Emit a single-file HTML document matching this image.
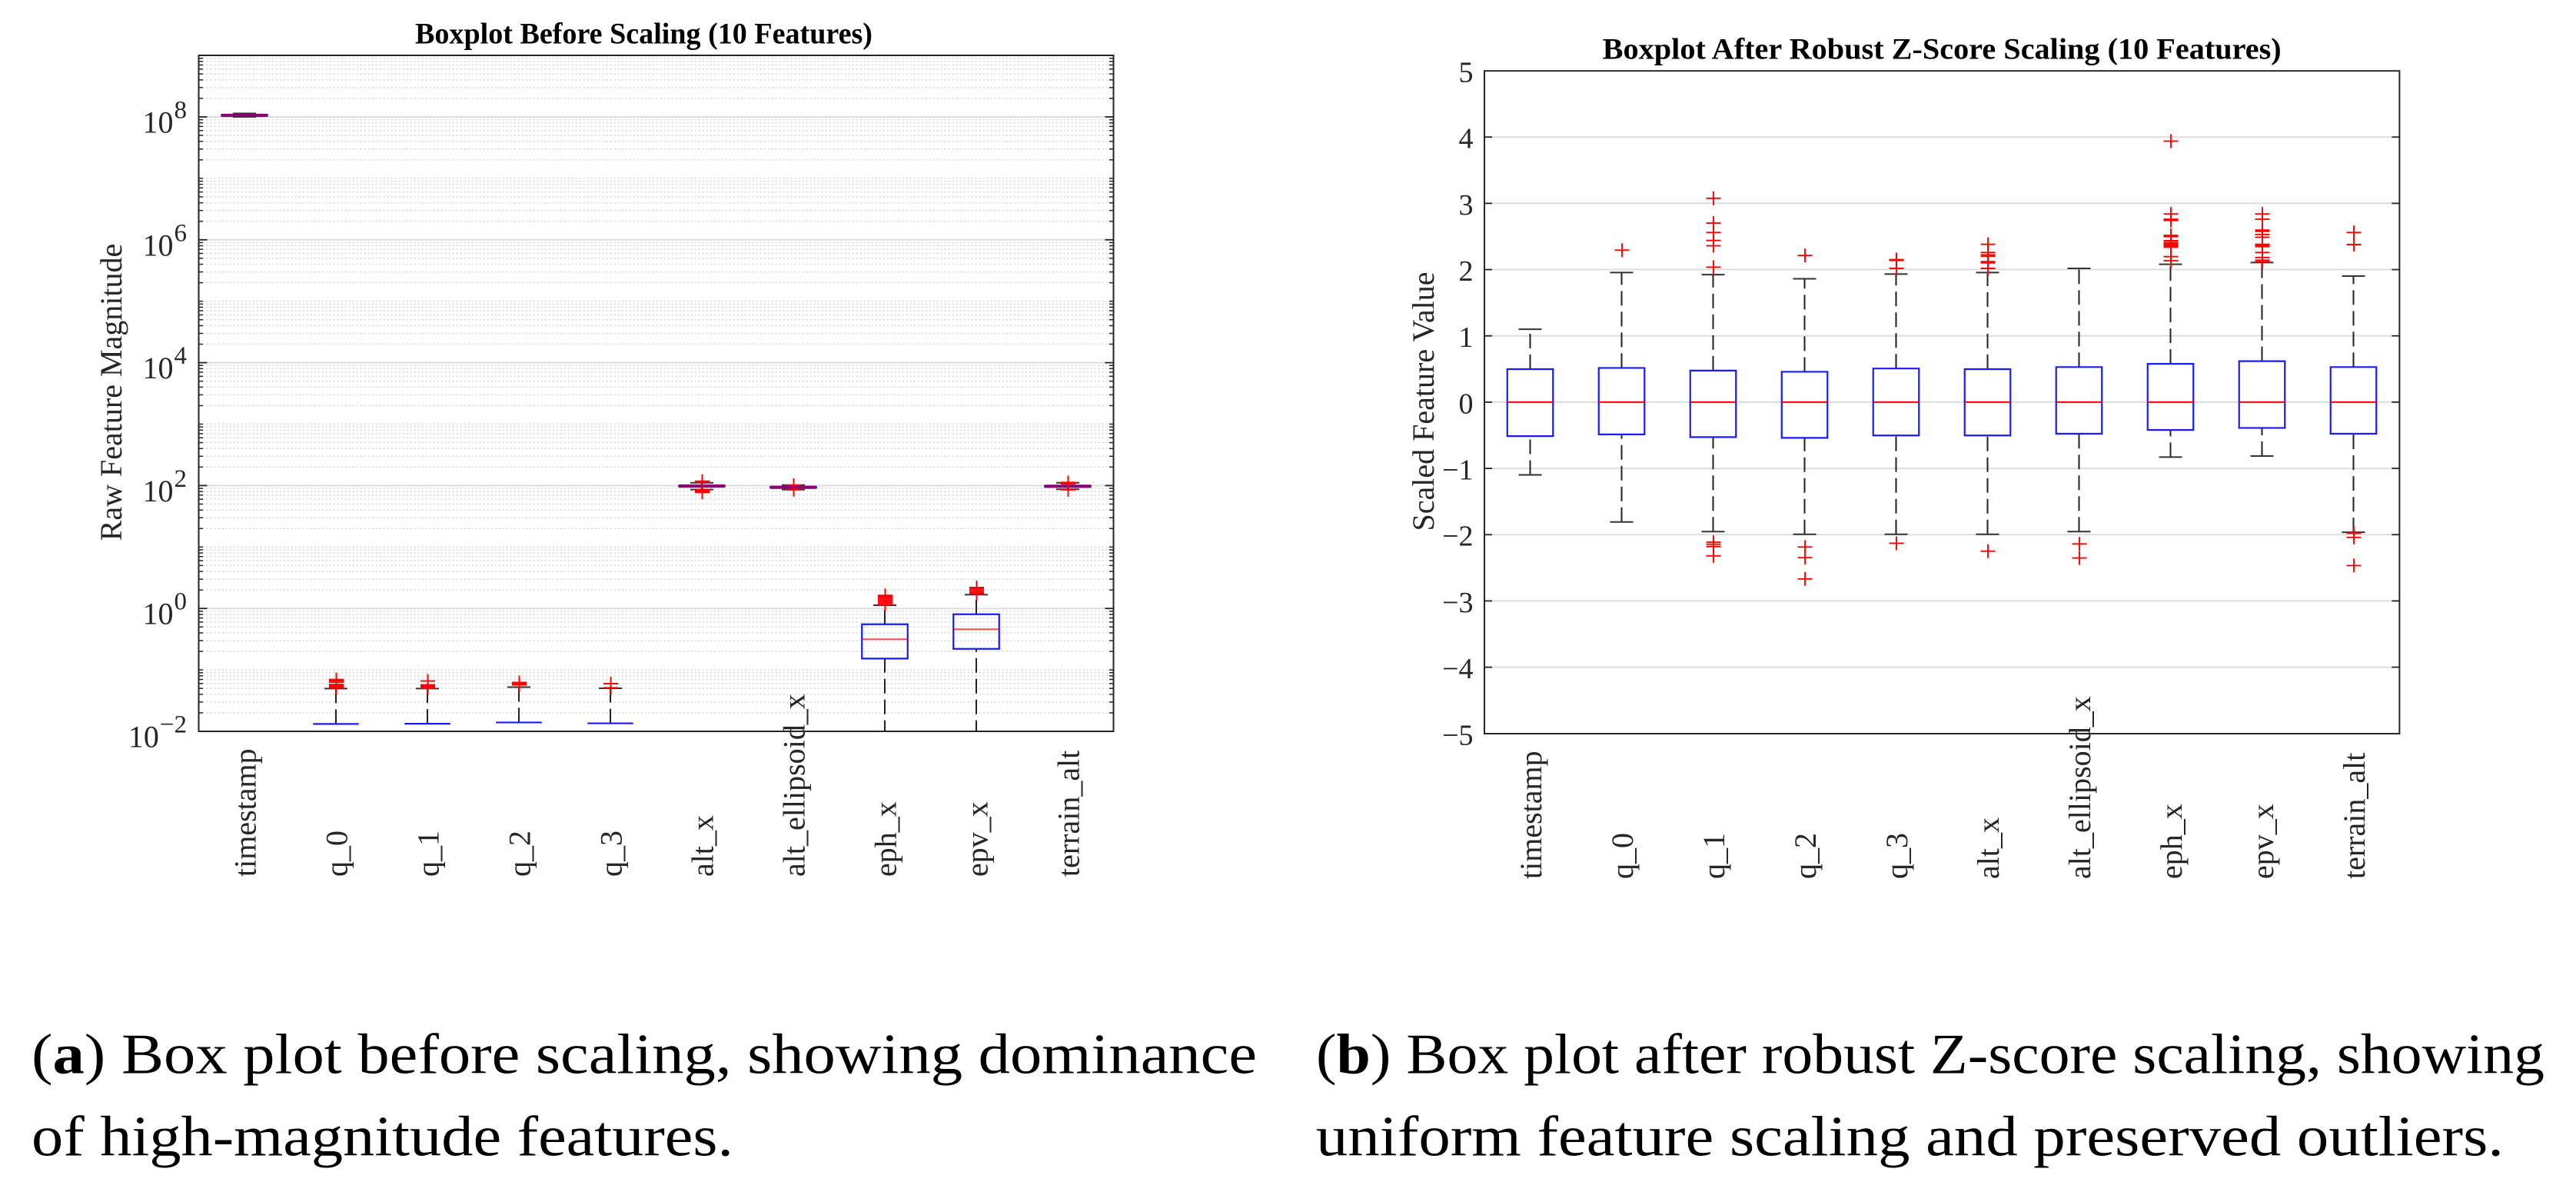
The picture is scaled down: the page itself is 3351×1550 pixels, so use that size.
<!DOCTYPE html>
<html>
<head>
<meta charset="utf-8">
<title>Box plots before and after scaling</title>
<style>
html,body{margin:0;padding:0;background:#fff;}
svg{display:block;}
text{font-family:"Liberation Serif","Times New Roman",serif;}
</style>
</head>
<body>
<svg id="figure" xmlns="http://www.w3.org/2000/svg" width="3351" height="1550" viewBox="0 0 3351 1550">
  <rect x="0" y="0" width="3351" height="1550" fill="#fff"/>
  <defs>
    <clipPath id="clip-left"><rect x="258.5" y="72" width="1190" height="879"/></clipPath>
    <clipPath id="clip-right"><rect x="1931" y="92.2" width="1190.4" height="861.8"/></clipPath>
  </defs>
  <g id="left-chart"></g>
  <g id="right-chart"></g>

  <text x="540" y="56.7" font-size="39" font-weight="bold" fill="#000" textLength="595" lengthAdjust="spacingAndGlyphs">Boxplot Before Scaling (10 Features)</text>
  <text x="2084.7" y="76.5" font-size="39" font-weight="bold" fill="#000" textLength="883" lengthAdjust="spacingAndGlyphs">Boxplot After Robust Z-Score Scaling (10 Features)</text>

  <text transform="translate(158 510) rotate(-90)" text-anchor="middle" font-size="40" fill="#262626">Raw Feature Magnitude</text>
  <text transform="translate(1865 522) rotate(-90)" text-anchor="middle" font-size="40" fill="#262626">Scaled Feature Value</text>

  <text x="41" y="1395.7" font-size="74" fill="#000" textLength="1594" lengthAdjust="spacingAndGlyphs">(<tspan font-weight="bold">a</tspan>) Box plot before scaling, showing dominance</text>
  <text x="41" y="1502.7" font-size="74" fill="#000" textLength="913" lengthAdjust="spacingAndGlyphs">of high-magnitude features.</text>
  <text x="1712" y="1395.7" font-size="74" fill="#000" textLength="1598" lengthAdjust="spacingAndGlyphs">(<tspan font-weight="bold">b</tspan>) Box plot after robust Z-score scaling, showing</text>
  <text x="1712" y="1502.7" font-size="74" fill="#000" textLength="1545" lengthAdjust="spacingAndGlyphs">uniform feature scaling and preserved outliers.</text>
</svg>
<script>
const categories = ['timestamp','q_0','q_1','q_2','q_3','alt_x','alt_ellipsoid_x','eph_x','epv_x','terrain_alt'];

const leftExponents = [-2,0,2,4,6,8];
const leftMedian = [1.06e8,null,null,null,null,98.2,93.6,0.315,0.458,97.4];
const leftQ1 = [1.05e8,0.0132,0.0133,0.01396,0.0135,97,92.4,0.153,0.220,96.2];
const leftQ3 = [1.07e8,0.0132,0.0133,0.01396,0.0135,99.5,94.8,0.553,0.805,98.6];
const leftWhiskerLow = [1e8,null,null,null,null,85.9,85.9,0.004,0.004,86.9];
const leftWhiskerHigh = [1.138e8,0.0496,0.0496,0.0524,0.0502,111,102,1.13,1.675,111];
const leftOutliers = [
  [],
  [0.0698,0.0668,0.0632,0.0579,0.0553,0.0531,0.0507],
  [0.066,0.0571,0.0547,0.0524,0.0502],
  [0.0625,0.0597,0.0571],
  [0.0597,0.0512],
  [117.9,113.5,86.3,81.5,77.4],
  [101,85.4],
  [1.63,1.55,1.46,1.38,1.30,1.23,1.16],
  [2.19,2.07,1.95,1.84,1.74],
  [112.5,107,85.4]
];

const rightTicks = [-5,-4,-3,-2,-1,0,1,2,3,4,5];
const rightMedian = [0,0,0,0,0,0,0,0,0,0];
const rightQ1 = [-0.513,-0.487,-0.528,-0.539,-0.503,-0.503,-0.477,-0.42,-0.389,-0.477];
const rightQ3 = [0.498,0.516,0.476,0.458,0.507,0.498,0.529,0.578,0.618,0.529];
const rightWhiskerLow = [-1.098,-1.808,-1.953,-1.995,-1.995,-1.995,-1.953,-0.829,-0.813,-1.964];
const rightWhiskerHigh = [1.10,1.956,1.924,1.862,1.933,1.956,2.018,2.08,2.107,1.902];
const rightOutliers = [
  [],
  [2.293],
  [3.076,2.702,2.56,2.44,2.36,2.036,-2.114,-2.145,-2.18,-2.32],
  [2.213,-2.187,-2.347,-2.668],
  [2.151,2.138,2.018,-2.13],
  [2.382,2.258,2.222,2.2,2.12,2.102,2.018,-2.249],
  [-2.14,-2.352],
  [3.938,2.84,2.76,2.742,2.516,2.498,2.436,2.409,2.391,2.373,2.356,2.338,2.196,2.133],
  [2.84,2.76,2.596,2.578,2.529,2.489,2.382,2.364,2.347,2.258,2.182,2.142,2.12],
  [2.56,2.378,-1.979,-2.041,-2.466]
];

const SVG_NS = 'http://www.w3.org/2000/svg';
const AXIS_COLOR = '#262626';
const GRID_COLOR = '#dedede';

function leftX(i){ return 258.5 + (i + 0.5) * 119; }
function leftY(v){ return 951 - (Math.log10(v) + 2) * 79.9; }
function rightX(i){ return 1931 + (i + 0.5) * 119; }
function rightY(v){ return 522.9 - v * 86.17; }

function make(parent, tag, attrs){
  const el = document.createElementNS(SVG_NS, tag);
  for (const key in attrs) { el.setAttribute(key, attrs[key]); }
  parent.appendChild(el);
  return el;
}

function line(parent, name, x1, y1, x2, y2, stroke, width, dash){
  const attrs = {x1:x1, y1:y1, x2:x2, y2:y2, stroke:stroke, 'stroke-width':width};
  if (dash) { attrs['stroke-dasharray'] = dash; }
  const el = make(parent, 'line', attrs);
  
  
  return el;
}

function drawBoxes(parent, prefix, clipId, xFn, yFn, median, q1, q3, low, high, outliers, medianOpacity){
  const clip = make(parent, 'g', {'clip-path':'url(#' + clipId + ')'});
  
  
  const boxHalf = 29.75, capHalf = 15, markHalfW = 9.5, markHalfH = 9;
  categories.forEach(function(cat, i){
    const x = xFn(i);
    const g = make(clip, 'g', {});
    
    
    if (high[i] !== null) {
      line(g, 'upper-whisker-' + cat, x, yFn(q3[i]), x, yFn(high[i]), '#222', 2, '19 8');
      line(g, 'upper-cap-' + cat, x - capHalf, yFn(high[i]), x + capHalf, yFn(high[i]), '#333', 2);
    }
    if (low[i] !== null) {
      line(g, 'lower-whisker-' + cat, x, yFn(low[i]), x, yFn(q1[i]), '#222', 2, '19 8');
      line(g, 'lower-cap-' + cat, x - capHalf, yFn(low[i]), x + capHalf, yFn(low[i]), '#333', 2);
    }
    const yTop = yFn(q3[i]), yBot = yFn(q1[i]);
    const box = make(g, 'path', {
      d:'M' + (x - boxHalf) + ' ' + yTop + 'H' + (x + boxHalf) + 'V' + yBot + 'H' + (x - boxHalf) + 'Z',
      fill:'none', stroke:'#1a1aff', 'stroke-width':2.2
    });
    
    
    if (median[i] !== null) {
      const flat = (yBot - yTop) < 6;
      const m = line(g, 'median-' + cat, x - boxHalf, yFn(median[i]), x + boxHalf, yFn(median[i]), flat ? '#8a0070' : '#ff0000', flat ? 4.2 : 2);
      m.setAttribute('stroke-opacity', flat ? 1 : medianOpacity);
    }
    outliers[i].forEach(function(v){
      const oy = yFn(v);
      const mark = make(g, 'path', {
        d:'M' + (x + 0.5 - markHalfW) + ' ' + oy + 'H' + (x + 0.5 + markHalfW) + 'M' + (x + 0.5) + ' ' + (oy - markHalfH) + 'V' + (oy + markHalfH),
        fill:'none', stroke:'#ff0000', 'stroke-width':1.9
      });
      
      
    });
  });
}

function drawFrame(parent, name, x, y, w, h){
  const r = make(parent, 'rect', {x:x, y:y, width:w, height:h, fill:'none', stroke:AXIS_COLOR, 'stroke-width':2});
  
  
}

function drawCategoryLabels(parent, prefix, xFn, startY){
  categories.forEach(function(cat, i){
    const t = make(parent, 'text', {
      transform:'translate(' + (xFn(i) + 14.5) + ' ' + startY + ') rotate(-90)',
      'font-size':40, fill:'#262626'
    });
    
    
    t.textContent = cat;
  });
}

/* ---------- left chart (log axis) ---------- */
(function(){
  const root = document.getElementById('left-chart');
  const L = 258.5, R = 1448.5, T = 72, B = 951;
  const minorGrid = make(root, 'g', {});
  
  
  for (let e = -2; e <= 8; e++) {
    for (let m = 1; m <= 9; m++) {
      if (m === 1 && leftExponents.indexOf(e) >= 0) { continue; }
      const y = leftY(m * Math.pow(10, e));
      line(minorGrid, 'left-minor-gridline', L, y, R, y, '#dcdcdc', 1.5, '2.5 2.5');
      line(minorGrid, 'left-minor-tick', L, y, L + 5.5, y, AXIS_COLOR, 1.5);
      line(minorGrid, 'left-minor-tick', R - 5.5, y, R, y, AXIS_COLOR, 1.5);
    }
  }
  leftExponents.forEach(function(e){
    const y = leftY(Math.pow(10, e));
    if (e > -2) { line(root, 'left-major-gridline', L, y, R, y, GRID_COLOR, 2); }
    line(root, 'left-y-tick', L, y, L + 11, y, AXIS_COLOR, 1.8);
    line(root, 'left-y-tick', R - 11, y, R, y, AXIS_COLOR, 1.8);
    const t = make(root, 'text', {x:243, y:y + 20.5, 'text-anchor':'end', 'font-size':40, fill:'#262626'});
    
    
    const base = make(t, 'tspan', {});
    base.textContent = '10';
    const sup = make(t, 'tspan', {dy:-19, dx:1, 'font-size':33});
    sup.textContent = String(e).replace('-', '\u2212');
  });
  drawBoxes(root, 'left', 'clip-left', leftX, leftY, leftMedian, leftQ1, leftQ3, leftWhiskerLow, leftWhiskerHigh, leftOutliers, 0.7);
  drawFrame(root, 'left-axes-frame', L, T, R - L, B - T);
  drawCategoryLabels(root, 'left', leftX, 1140);
})();

/* ---------- right chart (linear axis) ---------- */
(function(){
  const root = document.getElementById('right-chart');
  const L = 1931, R = 3121.4, T = 92.2, B = 954;
  rightTicks.forEach(function(v){
    const y = rightY(v);
    if (v > -5 && v < 5) {
      line(root, 'right-gridline', L, y, R, y, GRID_COLOR, 2);
      line(root, 'right-y-tick', L, y, L + 10, y, AXIS_COLOR, 1.8);
      line(root, 'right-y-tick', R - 10, y, R, y, AXIS_COLOR, 1.8);
    }
    const t = make(root, 'text', {x:1916.5, y:y + 14.5, 'text-anchor':'end', 'font-size':38, fill:'#262626'});
    
    
    t.textContent = String(v).replace('-', '\u2212');
  });
  drawBoxes(root, 'right', 'clip-right', rightX, rightY, rightMedian, rightQ1, rightQ3, rightWhiskerLow, rightWhiskerHigh, rightOutliers, 1);
  drawFrame(root, 'right-axes-frame', L, T, R - L, B - T);
  drawCategoryLabels(root, 'right', rightX, 1143);
})();
</script>
</body>
</html>
